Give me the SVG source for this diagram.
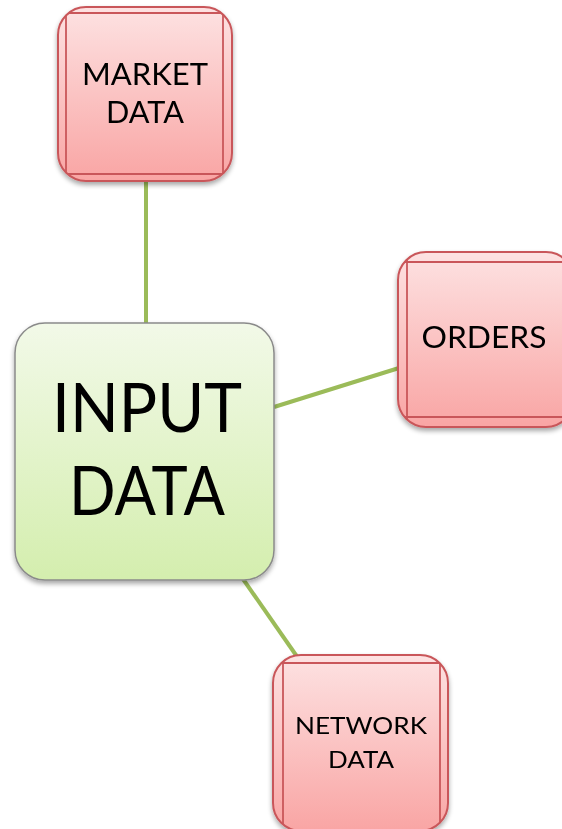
<svg xmlns="http://www.w3.org/2000/svg" width="562" height="829" viewBox="0 0 562 829">
<defs>
<linearGradient id="red" x1="0" y1="0" x2="0" y2="1">
<stop offset="0" stop-color="#fde2e2"/>
<stop offset="1" stop-color="#f9a5a4"/>
</linearGradient>
<linearGradient id="green" x1="0" y1="0" x2="0" y2="1">
<stop offset="0" stop-color="#f2f9e8"/>
<stop offset="1" stop-color="#d4eeae"/>
</linearGradient>
<filter id="sh" x="-20%" y="-20%" width="140%" height="140%">
<feGaussianBlur in="SourceAlpha" stdDeviation="2.5"/>
<feOffset dx="0" dy="3" result="b"/>
<feComponentTransfer><feFuncA type="linear" slope="0.35"/></feComponentTransfer>
<feMerge><feMergeNode/><feMergeNode in="SourceGraphic"/></feMerge>
</filter>
<clipPath id="cm"><rect x="58" y="7" width="174" height="174" rx="28"/></clipPath>
<clipPath id="co"><rect x="398" y="252" width="176" height="175" rx="28"/></clipPath>
<clipPath id="cn"><rect x="273" y="655" width="175" height="176" rx="28"/></clipPath>
</defs>
<style>
.red{fill:url(#red);stroke:#c9575a;stroke-width:2}
.inner{fill:none;stroke:#c9575a;stroke-width:1.8}
.green{fill:url(#green);stroke:#8a8a8a;stroke-width:1.5}
.conn{stroke:#9bbb59;stroke-width:4;fill:none}
text{font-family:Lato,"Open Sans","Liberation Sans",sans-serif;fill:#000;text-anchor:middle}
</style>
<g id="connectors">
<line class="conn" x1="146" y1="181" x2="146" y2="324"/>
<line class="conn" x1="274" y1="407" x2="399" y2="368"/>
<line class="conn" x1="243" y1="579" x2="298" y2="658"/>
</g>
<g id="market" filter="url(#sh)">
<rect class="red" x="58" y="7" width="174" height="174" rx="28"/>
<path class="inner" clip-path="url(#cm)" d="M66 7V181M223 7V181M58 13H232M58 174H232"/>
<text x="145" y="85" font-size="31" textLength="126" lengthAdjust="spacingAndGlyphs">MARKET</text>
<text x="145" y="123" font-size="31" textLength="78" lengthAdjust="spacingAndGlyphs">DATA</text>
</g>
<g id="orders" filter="url(#sh)">
<rect class="red" x="398" y="252" width="176" height="175" rx="28"/>
<path class="inner" clip-path="url(#co)" d="M407 252V427M398 262H574M398 417H574"/>
<text x="484" y="348" font-size="30" textLength="125" lengthAdjust="spacingAndGlyphs">ORDERS</text>
</g>
<g id="input" filter="url(#sh)">
<rect class="green" x="15" y="323" width="259" height="257" rx="30"/>
<text x="147" y="432" font-size="68" textLength="190" lengthAdjust="spacingAndGlyphs">INPUT</text>
<text x="147" y="515" font-size="68" textLength="156" lengthAdjust="spacingAndGlyphs">DATA</text>
</g>
<g id="network" filter="url(#sh)">
<rect class="red" x="273" y="655" width="175" height="176" rx="28"/>
<path class="inner" clip-path="url(#cn)" d="M283 655V831M440 655V831M273 663H448"/>
<text x="361" y="734" font-size="24" textLength="132" lengthAdjust="spacingAndGlyphs">NETWORK</text>
<text x="361" y="768" font-size="24" textLength="66" lengthAdjust="spacingAndGlyphs">DATA</text>
</g>
</svg>
